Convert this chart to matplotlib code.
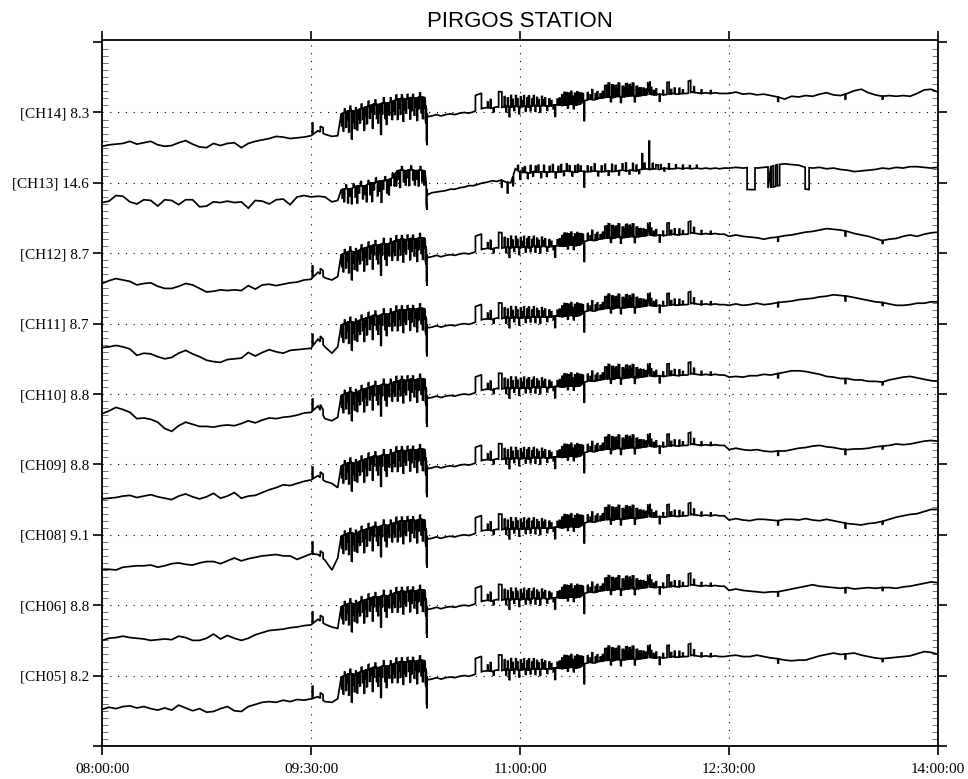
import numpy as np
import matplotlib
matplotlib.use("Agg")
import matplotlib.pyplot as plt

# ---- data: minutes after 08:00:00; trace values in 1/100 of the channel spacing ----
early_times = list(range(0, 100, 3))                       # 08:00 - 09:39
mid_times = ([101.5] + list(range(103, 140, 2)) + [140.2]   # 09:41 - 12:28
             + list(range(142, 269, 2)))
tail_times = list(range(270, 361, 3))                      # 12:30 - 14:00

channel_labels = ["[CH14] 8.3", "[CH13] 14.6", "[CH12] 8.7", "[CH11] 8.7", "[CH10] 8.8",
                  "[CH09] 8.8", "[CH08] 9.1", "[CH06] 8.8", "[CH05] 8.2"]
channel_pos = [9, 8, 7, 6, 5, 4, 3, 2, 1]

early_ch14 = [-48, -46, -45, -44, -41, -45, -43, -41, -46, -48, -47, -43, -40, -45, -49, -50, -44,
              -47, -44, -43, -50, -44, -41, -39, -37, -34, -35, -37, -36, -35, -33, -26, -31, -34]
early_ch13 = [-28, -26, -18, -19, -27, -30, -24, -25, -33, -24, -25, -31, -24, -24, -34, -33, -27,
              -28, -26, -28, -27, -36, -25, -26, -30, -24, -23, -31, -20, -18, -20, -19, -20, -27]
early_ch12 = [-43, -39, -36, -38, -40, -45, -43, -42, -47, -50, -50, -47, -43, -45, -50, -55, -54,
              -52, -53, -52, -53, -46, -51, -45, -44, -46, -44, -42, -41, -38, -37, -27, -35, -38]
early_ch11 = [-34, -33, -31, -33, -36, -45, -42, -43, -47, -50, -48, -42, -38, -43, -47, -52, -54,
              -55, -51, -50, -49, -41, -46, -41, -37, -40, -42, -38, -37, -36, -35, -22, -33, -42]
early_ch10 = [-28, -24, -19, -22, -26, -35, -34, -36, -40, -49, -53, -45, -40, -43, -46, -46, -47,
              -45, -44, -45, -42, -38, -41, -37, -34, -35, -33, -32, -30, -27, -26, -17, -35, -38]
early_ch09 = [-49, -48, -47, -45, -44, -47, -45, -43, -46, -48, -50, -45, -42, -46, -49, -46, -41,
              -48, -45, -40, -48, -45, -44, -40, -36, -33, -29, -30, -27, -24, -22, -16, -24, -27]
early_ch08 = [-49, -49, -50, -46, -45, -44, -44, -43, -46, -44, -41, -40, -42, -43, -40, -38, -38,
              -41, -37, -33, -37, -34, -32, -30, -29, -28, -30, -30, -35, -31, -27, -28, -36, -50]
early_ch06 = [-50, -47, -46, -44, -46, -47, -48, -50, -49, -48, -49, -44, -46, -50, -50, -47, -41,
              -48, -43, -47, -50, -47, -42, -39, -36, -35, -34, -32, -31, -29, -28, -20, -27, -31]
early_ch05 = [-48, -45, -47, -44, -43, -46, -44, -47, -49, -46, -49, -42, -46, -50, -47, -52, -51,
              -47, -44, -50, -51, -44, -41, -38, -37, -38, -35, -37, -34, -35, -33, -30, -37, -38]

mid_common = [-33,
              -2, 1, 3, 1, 5, 7, 9, 12, 11, 14, 13, 16, 18, 20, 19, 21, 20, 22, 21,
              -6,
              -5, -3, -5, -3, -2, -3, -1, 0, -1, 1,
              4, 6, 7, 6, 8, 7, 9, 8, 9, 8,
              9, 8, 10, 9, 10, 9, 10, 11, 10, 11,
              12, 11, 12, 17, 19, 18, 20, 21, 22, 21,
              23, 22, 23, 24, 23, 24, 25, 26, 25, 26,
              25, 26, 27, 26, 27, 27, 29, 28, 27, 28,
              27, 28, 27, 27]
mid_ch13 = [-25,
            -10, -8, -9, -5, -4, -5, -1, 0, 2, 3, 4, 7, 17, 18, 17, 19, 17, 18, 17,
            -17,
            -14, -13, -12, -11, -9, -9, -7, -6, -4, -4,
            -2, 0, 1, 3, 2, 4, 1, 0, 20, 15,
            15, 14, 16, 15, 16, 15, 16, 15, 16, 17,
            16, 15, 17, 16, 16, 17, 16, 16, 17, 16,
            17, 18, 17, 18, 17, 19, 20, 19, 20, 19,
            21, 20, 20, 21, 20, 21, 20, 21, 20, 21,
            20, 21, 20, 21]

tail_ch14 = [27, 29, 26, 27, 25, 26, 24, 22, 19, 23, 22, 24, 23, 26, 28, 25, 24, 27, 31, 33,
             28, 25, 23, 24, 23, 24, 23, 27, 32, 33, 29]
tail_ch13 = [21, 22, 21, 22, 21, 22, 23, 26, 27, 26, 25, 22, 21, 22, 20, 21, 19, 18, 16, 17,
             18, 19, 21, 20, 22, 21, 23, 23, 22, 21, 22]
tail_ch12 = [24, 26, 24, 23, 22, 20, 22, 23, 25, 26, 28, 30, 31, 33, 35, 34, 33, 31, 28, 26,
             24, 21, 18, 20, 21, 24, 26, 24, 27, 29, 30]
tail_ch11 = [26, 28, 26, 27, 29, 27, 28, 30, 31, 32, 34, 35, 36, 38, 39, 41, 40, 39, 37, 35,
             33, 31, 30, 28, 26, 26, 27, 29, 29, 31, 31]
tail_ch10 = [24, 25, 24, 26, 26, 28, 27, 29, 31, 33, 33, 32, 30, 28, 25, 24, 22, 22, 20, 20,
             18, 18, 17, 20, 22, 24, 25, 23, 21, 19, 18]
tail_ch09 = [21, 23, 21, 20, 21, 19, 18, 19, 19, 21, 23, 24, 26, 27, 25, 24, 22, 21, 22, 22,
             23, 25, 26, 27, 29, 28, 29, 31, 33, 34, 33]
tail_ch08 = [21, 23, 21, 20, 22, 22, 21, 20, 22, 22, 21, 23, 21, 20, 22, 20, 18, 16, 15, 14,
             16, 17, 19, 22, 25, 27, 29, 30, 33, 36, 36]
tail_ch06 = [21, 23, 21, 20, 19, 18, 19, 19, 21, 23, 25, 27, 29, 27, 26, 25, 24, 25, 23, 24,
             25, 24, 25, 25, 24, 26, 27, 29, 31, 33, 32]
tail_ch05 = [28, 29, 27, 27, 29, 27, 25, 24, 22, 21, 22, 22, 25, 28, 30, 32, 30, 31, 32, 29,
             27, 25, 24, 25, 26, 27, 28, 31, 34, 33, 30]

# short spikes (minute, amplitude) shared by the co-located channels
spike_t = [90.5,
           103.2, 103.8, 104.4, 105.0, 105.6, 106.2, 106.8, 107.4, 108.0, 108.6, 109.2, 109.8,
           110.4, 111.0, 111.6, 112.2, 112.8, 113.4, 114.0, 114.6, 115.2, 115.8, 116.4, 117.0,
           117.6, 118.2, 118.8, 119.4, 120.0, 120.6, 121.2, 121.8, 122.4, 123.0, 123.6, 124.2,
           124.8, 125.4, 126.0, 126.6, 127.2, 127.8, 128.4, 129.0, 129.6, 130.2, 130.8, 131.4,
           132.0, 132.6, 133.2, 133.8, 134.4, 135.0, 135.6, 136.2, 136.8, 137.4, 138.0, 138.6,
           139.2, 139.7,
           166.0, 167.2, 168.5,
           173.2, 173.9, 174.6, 175.3, 176.0, 176.7, 177.4, 178.1, 178.8, 179.5, 180.2, 180.9,
           181.6, 182.3, 183.0, 183.7, 184.4, 185.1, 185.8, 186.5, 187.2, 187.9, 188.6, 189.3,
           190.0, 190.7, 191.6, 192.5, 193.4, 194.3, 195.0, 196.0, 197.0,
           198.0, 198.5, 199.0, 199.5, 200.0, 200.5, 201.0, 201.5, 202.0, 202.5, 203.0, 203.5,
           204.0, 204.5, 205.0, 205.5, 206.0, 206.5, 207.0, 207.5,
           209.0, 210.2, 211.0, 212.4, 213.2, 214.5, 215.5,
           217.6, 219.0, 220.5, 221.8, 223.3, 224.9, 226.5, 227.8, 229.3, 230.9,
           233.0, 234.0, 236.4, 237.5, 238.5, 240.0, 241.5, 245.0, 246.5, 248.5, 250.0,
           254.8, 258.0, 262.0, 291.0, 320.0, 336.0]
spike_a = [17,
           -18, -26, 5, -22, -12, -30, 6, -40, -15, -24, 5, -28,
           -14, -20, 6, -16, -32, -12, -24, 7, -18, -10, -34, -14,
           6, -20, -26, -12, -44, -16, 7, -22, -30, -12, -18, 6,
           -26, -14, -20, 7, -28, -12, -22, 5, -32, -16, -20, 6,
           -14, -30, -18, 5, -24, -12, -32, -16, 6, -22, -30, -14,
           -26, -45,
           8, 12, -6,
           14, -8, 12, -14, 16, 10, -6, 15, 11, -10, 14, 8,
           15, -7, 12, 16, -6, 10, 14, -8, 12, 9, -9, 13,
           8, 11, -6, 10, 7, -5, -16, 8, 10,
           15, 12, 18, 10, 17, -5, 16, 13, 18, 11, -6, 16,
           14, 18, 12, 16, 10, 14, 12, -28,
           10, 6, 14, 8, 10, 6, 9,
           10, -6, 12, 10, -8, 12, 10, 12, -8, 10,
           10, 8, 10, 6, 8, -10, 6, 6, 8, 8, 5,
           8, 5, 4, -6, -7, -4]
# box-shaped pulses (start minute, duration, amplitude)
pulse_t = [94.0, 160.8, 170.8, 216.5, 218.0, 219.5, 221.0, 222.3, 224.0, 225.5, 227.0, 228.4,
           230.0, 231.5, 235.0, 243.3, 252.5]
pulse_w = [1.2, 2.6, 1.4, 0.8, 0.6, 0.7, 0.5, 0.6, 0.6, 0.7, 0.5, 0.6,
           0.6, 0.5, 1.0, 0.9, 1.0]
pulse_a = [8, 22, 22, 17, 20, 18, 16, 19, 15, 18, 16, 18,
           14, 12, 18, 17, 17]

# CH13 has its own spike pattern and the dropouts after 12:30
spike13_t = [103.4, 104.2, 105.0, 105.8, 106.6, 107.4, 108.2, 109.0, 109.8, 110.6, 111.4, 112.2,
             113.0, 113.8, 114.6, 115.4, 116.2, 117.0, 117.8, 118.6, 119.4, 120.2, 121.0, 121.8,
             122.6, 123.4, 124.2, 125.0, 125.8, 126.6, 127.4, 128.2, 129.0, 129.8, 130.6, 131.4,
             132.2, 133.0, 133.8, 134.6, 135.4, 136.2, 137.0, 137.8, 138.6, 139.6,
             172.0, 174.5, 176.9, 179.0, 180.0, 181.0, 182.0, 183.2, 184.4, 185.5, 186.6, 187.8,
             189.0, 190.2, 191.4, 192.6, 194.0, 195.2, 196.4, 197.6, 198.8, 200.0, 201.2, 202.4,
             203.6, 204.8, 206.0, 207.5, 209.0, 210.5, 212.0, 213.5, 215.0, 216.5, 218.0, 219.5,
             221.0, 222.5, 224.0, 225.5, 227.0, 228.5, 230.0, 231.2, 232.5, 233.5, 235.5, 237.0,
             240.5, 242.0, 244.0, 247.0, 250.0, 253.0, 256.0]
spike13_a = [-12, -18, 5, -20, -10, -22, 5, -15, -24, -10, 6, -18,
             -12, -24, 5, -16, -26, -10, 6, -20, -14, -30, -12, 5,
             -18, -22, -10, 6, -16, -20, -12, -24, 5, -16, -20, -10,
             -22, 5, -14, -20, -12, -22, 5, -16, -20, -30,
             -10, -15, -14, 8, -10, 6, 8, -8, 10, -6, 8, 10,
             -8, 9, -6, 8, 10, -8, 8, 10, -6, 10, 8, -6,
             9, 10, 7, -22, 8, 6, 10, -6, 8, 10, -6, 10,
             8, -6, 9, 11, -5, 10, 8, -5, 22, 8, 40, 8,
             6, -4, 7, 5, 5, 4, 4]
pulse13_t = [238.5, 277.8, 286.8, 289.0, 290.8, 302.8]
pulse13_w = [1.0, 3.4, 1.2, 1.0, 1.0, 1.7]
pulse13_a = [6, -31, -30, -30, -30, -31]

SPIKE_W = 0.3

x_ticks = [0, 90, 180, 270, 360]
x_labels = ["08:00:00", "09:30:00", "11:00:00", "12:30:00", "14:00:00"]


def build_trace(level, base, s_t, s_a, p_t, p_w, p_a):
    t = np.array(early_times + mid_times + tail_times, dtype=float)
    b = level + np.asarray(base, dtype=float) / 100.0
    starts = list(s_t) + list(p_t)
    widths = [SPIKE_W] * len(s_t) + list(p_w)
    amps = [a / 100.0 for a in list(s_a) + list(p_a)]
    pts = []
    for ti, yi in zip(t, b):
        if not any(s < ti < s + w for s, w in zip(starts, widths)):
            pts.append((ti, 0, yi))
    for s, w, a in zip(starts, widths, amps):
        b0 = np.interp(s, t, b)
        b1 = np.interp(s + w, t, b)
        pts += [(s, 1, b0), (s, 2, b0 + a), (s + w, 3, b1 + a), (s + w, 4, b1)]
    pts.sort(key=lambda p: (p[0], p[1]))
    return [p[0] for p in pts], [p[2] for p in pts]


traces = {
    "[CH14] 8.3": (early_ch14, mid_common, tail_ch14),
    "[CH13] 14.6": (early_ch13, mid_ch13, tail_ch13),
    "[CH12] 8.7": (early_ch12, mid_common, tail_ch12),
    "[CH11] 8.7": (early_ch11, mid_common, tail_ch11),
    "[CH10] 8.8": (early_ch10, mid_common, tail_ch10),
    "[CH09] 8.8": (early_ch09, mid_common, tail_ch09),
    "[CH08] 9.1": (early_ch08, mid_common, tail_ch08),
    "[CH06] 8.8": (early_ch06, mid_common, tail_ch06),
    "[CH05] 8.2": (early_ch05, mid_common, tail_ch05),
}

fig = plt.figure(figsize=(9.68, 7.79), dpi=100)
ax = fig.add_axes([0.1054, 0.0424, 0.8636, 0.9063])

for lab, pos in zip(channel_labels, channel_pos):
    e, m, tl = traces[lab]
    base = e + m + tl
    if lab.startswith("[CH13]"):
        xs, ys = build_trace(pos, base, spike13_t, spike13_a, pulse13_t, pulse13_w, pulse13_a)
    else:
        xs, ys = build_trace(pos, base, spike_t, spike_a, pulse_t, pulse_w, pulse_a)
    ax.plot(xs, ys, color="black", lw=1.25, solid_joinstyle="miter")

# dotted reference lines
for pos in channel_pos:
    ax.axhline(pos, color="black", lw=0.8, ls=(0, (1, 6)), zorder=0)
for xt in x_ticks[1:-1]:
    ax.axvline(xt, color="black", lw=0.8, ls=(0, (1, 6)), zorder=0)

ax.set_xlim(0, 360)
ax.set_ylim(0, 10.03)
ax.set_xticks(x_ticks, x_labels)
ax.set_yticks([0] + channel_pos[::-1] + [10], [""] + channel_labels[::-1] + [""])
ax.set_yticks(np.arange(0, 10.01, 0.1), minor=True)

serif = ["Liberation Serif", "DejaVu Serif"]
for lbl in ax.get_xticklabels() + ax.get_yticklabels():
    lbl.set_fontfamily(serif)
    lbl.set_fontsize(11)

ax.tick_params(axis="both", which="major", direction="out", length=6.5, width=1.2,
               top=True, right=True, colors="black")
ax.tick_params(axis="x", which="major", pad=6)
ax.tick_params(axis="y", which="major", pad=3)
ax.tick_params(axis="y", which="minor", direction="in", length=4, width=0.6,
               left=True, right=True, color="0.35")
for sp in ax.spines.values():
    sp.set_linewidth(1.3)

ax.set_title("PIRGOS STATION", fontsize=16, family=["Liberation Sans", "DejaVu Sans"], pad=9)

fig.savefig("out.png", dpi=100)
